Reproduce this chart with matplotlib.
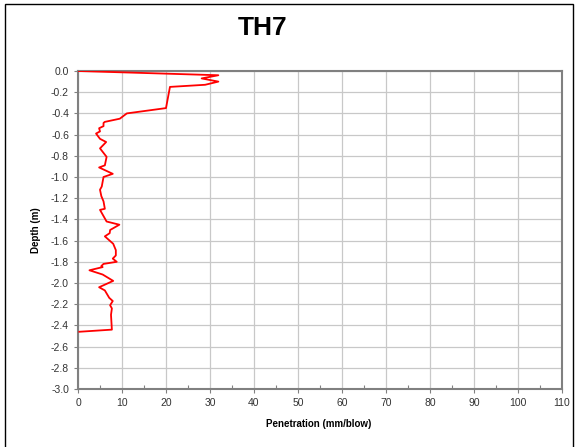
import matplotlib
matplotlib.use("Agg")
import matplotlib.pyplot as plt
from matplotlib.patches import Rectangle
from matplotlib.ticker import MultipleLocator

plt.rcParams['font.family'] = ['Liberation Sans', 'DejaVu Sans']

# penetration (mm/blow) vs depth (m)
penetration = [0, 31.9, 28.1, 31.9, 28.9, 20.9, 20.0, 11.1, 9.5, 6.1, 5.8, 5.8, 4.8, 5.0,
               4.1, 5.0, 6.4, 5.0, 6.5, 6.1, 4.8, 7.9, 5.8, 5.4, 5.0, 5.3, 5.8, 6.1,
               5.0, 6.5, 9.4, 7.3, 7.2, 6.1, 8.0, 8.6, 8.6, 7.9, 8.8, 5.8, 5.3, 5.6,
               2.6, 5.6, 8.0, 6.4, 4.8, 6.1, 7.1, 7.9, 7.3, 7.7, 7.5, 7.7, 0.3]
depth = [0, -0.04, -0.07, -0.10, -0.13, -0.15, -0.35, -0.40, -0.45, -0.48, -0.49, -0.52,
         -0.54, -0.57, -0.59, -0.64, -0.67, -0.73, -0.81, -0.89, -0.91, -0.97, -1.00,
         -1.09, -1.12, -1.18, -1.23, -1.30, -1.31, -1.42, -1.45, -1.50, -1.53, -1.56,
         -1.63, -1.69, -1.74, -1.77, -1.80, -1.82, -1.84, -1.85, -1.88, -1.92, -1.98,
         -2.01, -2.04, -2.07, -2.14, -2.17, -2.21, -2.24, -2.30, -2.44, -2.46]

fig = plt.figure(figsize=(5.76, 4.47), dpi=100)
ax = fig.add_axes([78/576, 1-389/447, (562-78)/576, (389-71)/447])

ax.plot(penetration, depth, color='#ff0000', lw=1.3, zorder=3)

ax.set_xlim(0, 110)
ax.set_ylim(-3.0, 0.0)
ax.xaxis.set_major_locator(MultipleLocator(10))
ax.xaxis.set_minor_locator(MultipleLocator(5))
ax.yaxis.set_major_locator(MultipleLocator(0.2))
ax.yaxis.set_major_formatter(plt.FormatStrFormatter('%.1f'))
ax.grid(True, which='major', color='#c8c8c8', lw=0.9)
ax.set_axisbelow(True)
for s in ax.spines.values():
    s.set_color('#808080')
    s.set_linewidth(1.5)
ax.tick_params(which='major', length=3, width=0.8, color='#808080', labelsize=7.5, labelcolor='#333333')
ax.tick_params(which='minor', axis='x', length=3, direction='in', width=0.8, color='#808080')

fig.text(263/576, 1-28/447, 'TH7', ha='center', va='center', fontsize=19, fontweight='bold')
fig.text(319/576, 1-424/447, 'Penetration (mm/blow)', ha='center', va='center', fontsize=7, fontweight='bold')
fig.text(36/576, 1-230/447, 'Depth (m)', ha='center', va='center', rotation=90, fontsize=7, fontweight='bold')

fig.patches.append(Rectangle((5/576, -0.05), 568/576, 1.05-4/447, transform=fig.transFigure,
                             fill=False, edgecolor='black', lw=1))

fig.savefig('out.png', dpi=100)
